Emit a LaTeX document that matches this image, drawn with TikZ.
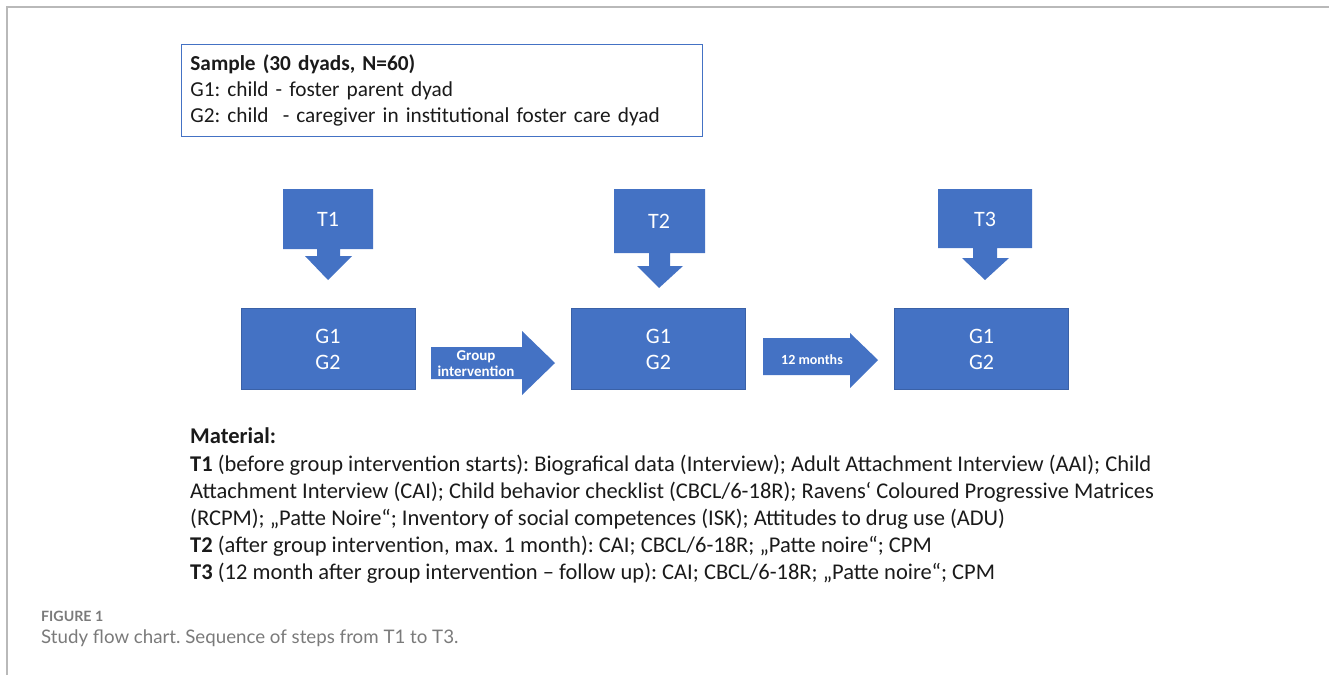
\documentclass[tikz,border=0pt]{standalone}
\usepackage{fontspec}
\setmainfont{Carlito}
\newfontfamily\capfont{Lato}
\frenchspacing
\definecolor{boxblue}{HTML}{4472C4}
\definecolor{capgray}{HTML}{7A7A7A}
\definecolor{txtdark}{HTML}{1A1A1A}
\tikzset{
  gbox/.style={rectangle, fill=boxblue, draw=boxblue!85!black, line width=0.5pt,
    minimum width=174pt, minimum height=81pt, align=center, text=white,
    font=\fontsize{22}{26}\selectfont},
  tlabel/.style={text=white, font=\fontsize{22}{24}\selectfont},
  arrowlabel/.style={text=white, align=center, font=\bfseries\fontsize{15}{16}\selectfont},
  bodytext/.style={anchor=north west, align=left, inner sep=0pt, text=txtdark,
    font=\fontsize{22.5}{27.2}\selectfont}
}
\begin{document}
\begin{tikzpicture}[x=1pt, y=-1pt]
    \useasboundingbox (0,0) rectangle (1329,675);
    % frame
    \draw[gray!55, line width=1.5pt] (7,675) -- (7,7) -- (1329,7);

    % sample
    \node[draw=boxblue, line width=0.8pt, anchor=north west, text width=503pt,
          inner xsep=9pt, minimum height=92pt, align=left, text=txtdark,
          font=\fontsize{21.3}{26}\selectfont] (sample) at (181,44)
        {\textbf{Sample (30 dyads, N=60)}\\
         G1: child - foster parent dyad\\
         G2: child\ \ - caregiver in institutional foster care dyad};

    % time points
    \fill[boxblue] (283,189) -- (373,189) -- (373,249) -- (340,249) -- (340,256)
        -- (352,256) -- (328,280) -- (305,256) -- (317,256) -- (317,249)
        -- (283,249) -- cycle;
    \node[tlabel] (t1) at (328,219) {T1};

    \fill[boxblue] (614,189) -- (705,189) -- (705,253) -- (670,253) -- (670,266)
        -- (683,266) -- (659,288) -- (637,266) -- (649,266) -- (649,253)
        -- (614,253) -- cycle;
    \node[tlabel] (t2) at (659,221) {T2};

    \fill[boxblue] (938,189) -- (1032,189) -- (1032,248) -- (997,248) -- (997,258)
        -- (1009,258) -- (985,280) -- (962,258) -- (973,258) -- (973,248)
        -- (938,248) -- cycle;
    \node[tlabel] (t3) at (985,219) {T3};

    % groups
    \node[gbox] (g1) at (328,349) {G1\\G2};
    \node[gbox] (g2) at (658.5,349) {G1\\G2};
    \node[gbox] (g3) at (981.5,349) {G1\\G2};

    % block arrows
    \fill[boxblue] (431,347) -- (522,347) -- (522,331) -- (555,363) -- (522,395)
        -- (522,379) -- (431,379) -- cycle;
    \node[arrowlabel] (grp) at (476,364) {Group\\intervention};

    \fill[boxblue] (763,338) -- (850,338) -- (850,333) -- (878,360) -- (850,388)
        -- (850,375) -- (763,375) -- cycle;
    \node[arrowlabel, font=\bfseries\fontsize{14}{16}\selectfont] (months) at (812,360) {12 months};

    % material
    \node[bodytext] (material) at (190,428)
        {\textbf{Material:}\\
         \textbf{T1} (before group intervention starts): Biografical data (Interview); Adult Attachment Interview (AAI); Child\\
         Attachment Interview (CAI); Child behavior checklist (CBCL/6-18R); Ravens‘ Coloured Progressive Matrices\\
         (RCPM); „Patte Noire“; Inventory of social competences (ISK); Attitudes to drug use (ADU)\\
         \textbf{T2} (after group intervention, max. 1 month): CAI; CBCL/6-18R; „Patte noire“; CPM\\
         \textbf{T3} (12 month after group intervention – follow up): CAI; CBCL/6-18R; „Patte noire“; CPM};

    % caption
    \node[anchor=west, inner sep=0pt, text=capgray, font=\capfont\bfseries\fontsize{14.2}{15}\selectfont]
        (figno) at (41,616) {FIGURE 1};
    \node[anchor=west, inner sep=0pt, text=capgray, font=\capfont\fontsize{18.7}{20}\selectfont]
        (caption) at (41,638) {Study flow chart. Sequence of steps from T1 to T3.};
\end{tikzpicture}
\end{document}
